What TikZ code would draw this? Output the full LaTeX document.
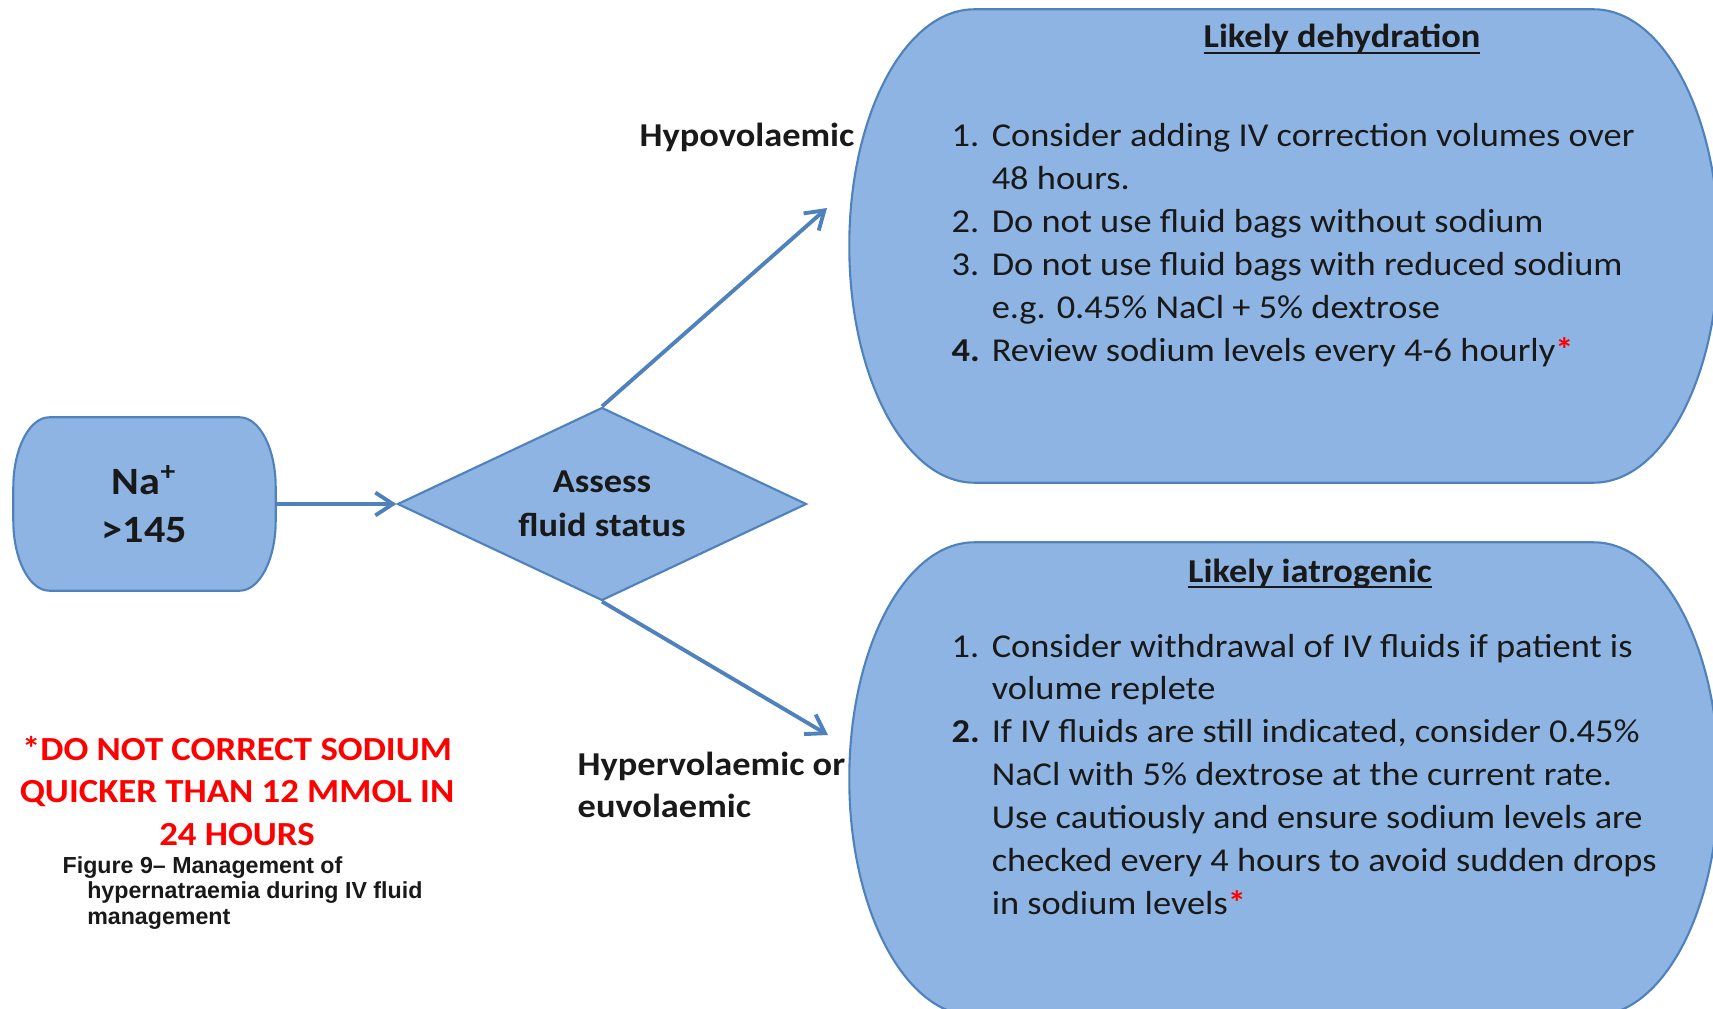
\documentclass[tikz,border=0pt]{standalone}
\usepackage{fontspec}
\setmainfont{Carlito}[FakeStretch=1.09]
\newfontfamily\capfont{Liberation Sans}
\usetikzlibrary{positioning,shapes.geometric,arrows.meta,backgrounds}

\definecolor{shapefill}{RGB}{141,180,226}
\definecolor{shapeline}{RGB}{79,129,189}
\definecolor{alertred}{RGB}{255,0,0}
\definecolor{inkblack}{RGB}{25,25,25}

% contorno com cantos elipticos: no, raio x, raio y
\newcommand{\capsule}[3]{%
  \filldraw[capsuleline]
    ([xshift=#2]#1.north west) -- ([xshift=-#2]#1.north east)
    arc[start angle=90, end angle=0, x radius=#2, y radius=#3]
    -- ([yshift=#3]#1.south east)
    arc[start angle=0, end angle=-90, x radius=#2, y radius=#3]
    -- ([xshift=#2]#1.south west)
    arc[start angle=270, end angle=180, x radius=#2, y radius=#3]
    -- ([yshift=-#3]#1.north west)
    arc[start angle=180, end angle=90, x radius=#2, y radius=#3] -- cycle;}
\newcommand{\ulhead}[1]{\underline{\smash{#1}}}

\begin{document}
\begin{tikzpicture}[
  capsuleline/.style={fill=shapefill, draw=shapeline, line width=0.6pt},
  capsulebox/.style={rectangle, inner sep=0pt, text=inkblack, align=center},
  decision/.style={diamond, aspect=2.12, fill=shapefill, draw=shapeline, line width=0.6pt, inner sep=0pt, align=center, text=inkblack, font=\bfseries\fontsize{9.5}{12.5}\selectfont},
  flow/.style={draw=shapeline, line width=1.1pt, -{Straight Barb[length=5pt,width=6.5pt]}},
  branch/.style={font=\bfseries\fontsize{9.5}{12}\selectfont, text=inkblack, inner sep=0pt},
  heading/.style={font=\bfseries\fontsize{9.5}{12}\selectfont, text=inkblack, inner sep=0pt, anchor=base},
  steps/.style={font=\fontsize{9.5}{12.2}\selectfont, text=inkblack, inner sep=0pt, anchor=base west},
  warn/.style={font=\bfseries\fontsize{9.6}{12.1}\selectfont, text=alertred, inner sep=0pt, anchor=base},
  figcap/.style={font=\capfont\bfseries\fontsize{6.6}{7.3}\selectfont, text=inkblack, inner sep=0pt, anchor=base west}
]
\useasboundingbox (0,0) rectangle (17.13,-10.08);
\clip (0,0) rectangle (17.13,-10.08);

% Sodio inicial
\node[capsulebox, minimum width=2.61cm, minimum height=1.72cm, font=\bfseries\fontsize{11}{13.7}\selectfont] (na) at (1.445,-5.04) {Na\textsuperscript{+}\\>145};

% Decisao
\node[decision, minimum width=4.09cm, minimum height=1.93cm] (assess) at (6.02,-5.04) {Assess\\fluid status};

% Caixas de resultado
\node[capsulebox, minimum width=8.68cm, minimum height=4.72cm] (dehyd) at (12.84,-2.46) {};
\node[capsulebox, minimum width=8.68cm, minimum height=4.72cm] (iatro) at (12.84,-7.79) {};

\begin{scope}[on background layer]
  \capsule{na}{0.36cm}{0.7cm}
  \capsule{dehyd}{1.25cm}{2.36cm}
  \capsule{iatro}{1.25cm}{2.36cm}
\end{scope}

% Desidratacao
\node[heading] (dehydtitle) at (13.42,-0.48) {\ulhead{Likely dehydration}};
\node[steps] (dehydlist) at (9.51,-1.47) {\begin{tabular}[t]{@{}p{11.4pt}@{}l@{}}
1. & Consider adding IV correction volumes over\\
   & 48 hours.\\
2. & Do not use fluid bags without sodium\\
3. & Do not use fluid bags with reduced sodium\\
   & e.g. 0.45\% NaCl + 5\% dextrose\\
\textbf{4.} & Review sodium levels every 4-6 hourly{\color{alertred}\textbf{*}}
\end{tabular}};

% Iatrogenico
\node[heading] (iatrotitle) at (13.10,-5.82) {\ulhead{Likely iatrogenic}};
\node[steps] (iatrolist) at (9.51,-6.57) {\begin{tabular}[t]{@{}p{11.4pt}@{}l@{}}
1. & Consider withdrawal of IV fluids if patient is\\
   & volume replete\\
\textbf{2.} & If IV fluids are still indicated, consider 0.45\%\\
   & NaCl with 5\% dextrose at the current rate.\\
   & Use cautiously and ensure sodium levels are\\
   & checked every 4 hours to avoid sudden drops\\
   & in sodium levels{\color{alertred}\textbf{*}}
\end{tabular}};

% Ramos
\node[branch, anchor=base] (hypo) at (7.47,-1.47) {Hypovolaemic};
\node[branch, anchor=base west] (hyper) at (5.77,-7.75) {\begin{tabular}[t]{@{}l@{}}Hypervolaemic or\\euvolaemic\end{tabular}};

\coordinate (hypotip) at (8.27,-2.08);
\coordinate (hypertip) at (8.28,-7.35);

% Setas
\draw[flow] (na) -- (assess);
\draw[flow] (assess.north) -- (hypotip);
\draw[flow] (assess.south) -- (hypertip);

% Aviso e legenda
\node[warn] (warning) at (2.37,-7.60) {\begin{tabular}[t]{@{}c@{}}*DO NOT CORRECT SODIUM\\QUICKER THAN 12 MMOL IN\\24 HOURS\end{tabular}};
\node[figcap] (figtitle) at (0.62,-8.73) {\begin{tabular}[t]{@{}l@{}}Figure 9– Management of\\\hspace{7pt}hypernatraemia during IV fluid\\\hspace{7pt}management\end{tabular}};

\end{tikzpicture}
\end{document}
